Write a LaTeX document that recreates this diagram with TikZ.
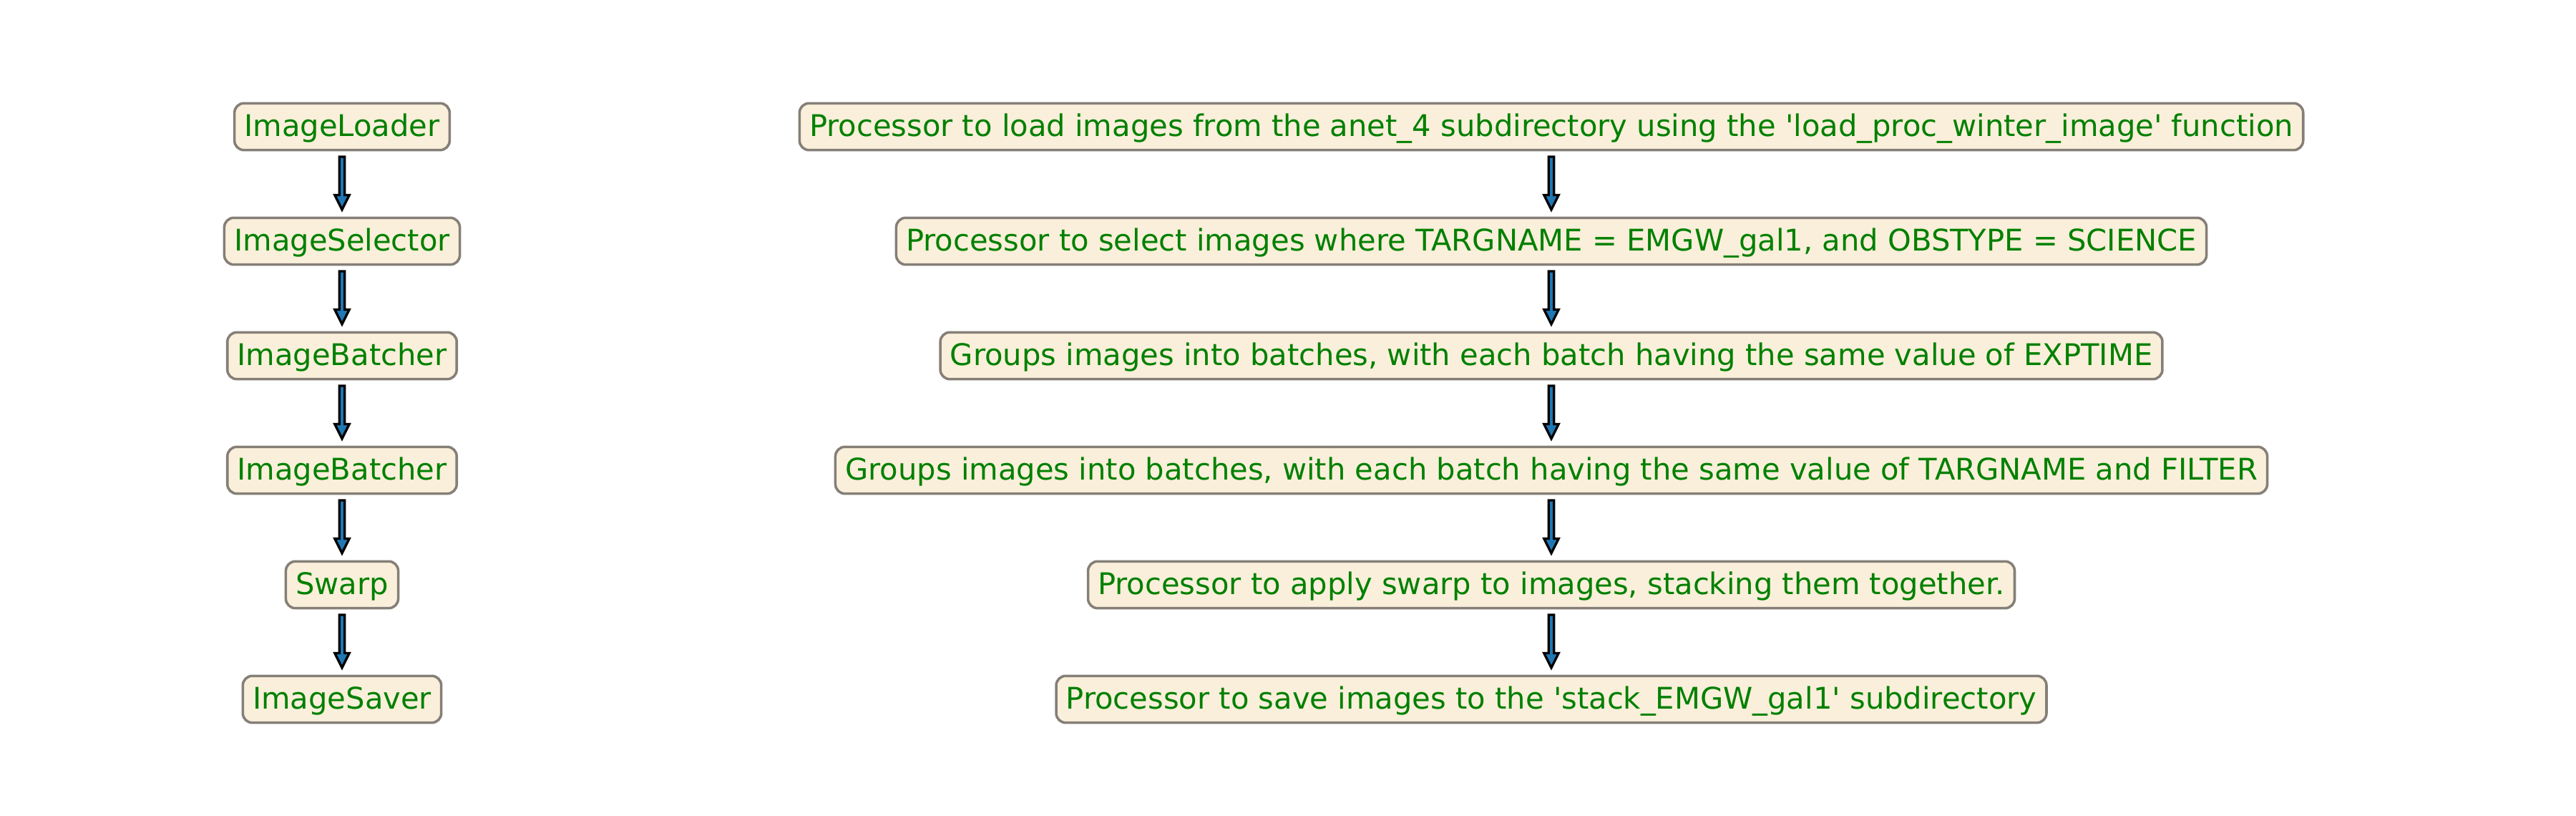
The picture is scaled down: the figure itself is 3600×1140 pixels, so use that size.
\documentclass[tikz,border=0pt]{standalone}
\usepackage{fontspec}
\setmainfont{DejaVu Sans}
\usepackage{xcolor}
\usetikzlibrary{positioning, calc}
\definecolor{boxfill}{HTML}{FAEFDA}
\definecolor{boxedge}{HTML}{857F78}
\definecolor{textgreen}{HTML}{008000}
\definecolor{arrowblue}{HTML}{1F77B4}
\tikzstyle{stage} = [rectangle, draw=boxedge, fill=boxfill, line width=0.85pt, rounded corners=3.2pt, text=textgreen, font=\fontsize{10pt}{12pt}\selectfont, inner xsep=3.3pt, inner ysep=3.2pt, text height=7.8pt, text depth=1.5pt]
\tikzstyle{fatarrow} = [draw=black, fill=arrowblue, line width=0.8pt, line join=miter, to path={let \p1=(\tikztostart.south), \p2=(\tikztotarget.north) in (\x1-0.9pt,\y1-1.8pt) -- (\x1+0.9pt,\y1-1.8pt) -- (\x1+0.9pt,\y2+7.2pt) -- (\x1+2.45pt,\y2+7.2pt) -- (\x1,\y2+2.3pt) -- (\x1-2.45pt,\y2+7.2pt) -- (\x1-0.9pt,\y2+7.2pt) -- cycle}]

\begin{document}
\begin{tikzpicture}[x=0.24pt, y=0.24pt, node distance=21.85pt]
    \useasboundingbox (0,0) rectangle (3600,-1140);
    % Nodes - class names on the left
    \node (loader) [stage] at (478,-177) {ImageLoader};
    \node (selector) [stage, below=of loader] {ImageSelector};
    \node (batchtime) [stage, below=of selector] {ImageBatcher};
    \node (batchfilter) [stage, below=of batchtime] {ImageBatcher};
    \node (swarp) [stage, below=of batchfilter] {Swarp};
    \node (saver) [stage, below=of swarp] {ImageSaver};

    % Nodes - descriptions on the right
    \node (loaderdesc) [stage] at (2168,-177) {Processor to load images from the anet\_4 subdirectory using the \textquotesingle load\_proc\_winter\_image\textquotesingle{} function};
    \node (selectordesc) [stage, below=of loaderdesc] {Processor to select images where TARGNAME = EMGW\_gal1, and OBSTYPE = SCIENCE};
    \node (batchtimedesc) [stage, below=of selectordesc] {Groups images into batches, with each batch having the same value of EXPTIME};
    \node (batchfilterdesc) [stage, below=of batchtimedesc] {Groups images into batches, with each batch having the same value of TARGNAME and FILTER};
    \node (swarpdesc) [stage, below=of batchfilterdesc] {Processor to apply swarp to images, stacking them together.};
    \node (saverdesc) [stage, below=of swarpdesc] {Processor to save images to the \textquotesingle stack\_EMGW\_gal1\textquotesingle{} subdirectory};

    % Arrows
    \draw [fatarrow] (loader) to (selector);
    \draw [fatarrow] (selector) to (batchtime);
    \draw [fatarrow] (batchtime) to (batchfilter);
    \draw [fatarrow] (batchfilter) to (swarp);
    \draw [fatarrow] (swarp) to (saver);
    \draw [fatarrow] (loaderdesc) to (selectordesc);
    \draw [fatarrow] (selectordesc) to (batchtimedesc);
    \draw [fatarrow] (batchtimedesc) to (batchfilterdesc);
    \draw [fatarrow] (batchfilterdesc) to (swarpdesc);
    \draw [fatarrow] (swarpdesc) to (saverdesc);
\end{tikzpicture}
\end{document}
